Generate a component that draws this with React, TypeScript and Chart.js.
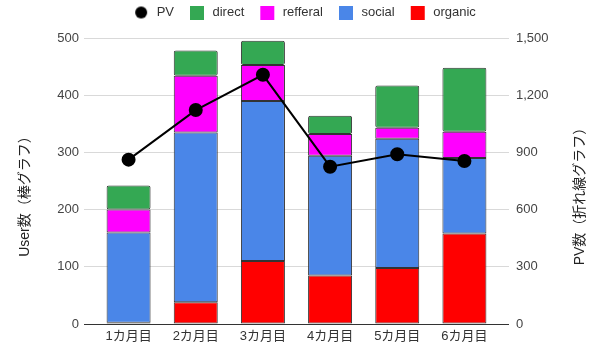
import React, { useEffect, useRef } from "react";
import { Chart, registerables } from "chart.js";

Chart.register(...registerables);

const categories = ["1カ月目", "2カ月目", "3カ月目", "4カ月目", "5カ月目", "6カ月目"];
const organic = [2, 38, 110, 85, 98, 158];
const social = [158, 297, 280, 209, 226, 132];
const refferal = [40, 99, 63, 38, 19, 46];
const direct = [42, 44, 42, 32, 74, 112];
const pv = [862, 1122, 1307, 825, 890, 855];
const leftTitle = "User数（棒グラフ）";
const rightTitle = "PV数（折れ線グラフ）";

const FONT = '"Liberation Sans", Arial, "Noto Sans CJK JP", sans-serif';
const ICON_W = 26;

function makeIcon(kind: "circle" | "rect", color: string): HTMLCanvasElement {
  const c = document.createElement("canvas");
  c.width = ICON_W;
  c.height = 14;
  const g = c.getContext("2d")!;
  g.fillStyle = color;
  if (kind === "circle") {
    g.beginPath();
    g.arc(17, 7, 6, 0, Math.PI * 2);
    g.fill();
  } else {
    g.fillRect(10, 0, 14, 14);
  }
  return c;
}

const titlePlugin = {
  id: "sideTitles",
  beforeUpdate(chart: any) {
    const lg = chart.legend;
    if (lg && !lg.__patched) {
      const orig = lg.fit.bind(lg);
      lg.fit = function () {
        orig();
        this.height = 38;
      };
      lg.__patched = true;
    }
  },
  afterDraw(chart: any) {
    const ctx = chart.ctx;
    const cy = 193;
    const draw = (text: string, x: number) => {
      ctx.save();
      ctx.font = "14px " + FONT;
      ctx.fillStyle = "#222";
      ctx.textAlign = "center";
      ctx.textBaseline = "middle";
      ctx.translate(x, cy);
      ctx.rotate(-Math.PI / 2);
      ctx.fillText(text, 0, 0);
      ctx.restore();
    };
    draw(leftTitle, 25);
    draw(rightTitle, 580);
  },
};

export default function App() {
  const ref = useRef<HTMLCanvasElement | null>(null);
  useEffect(() => {
    if (!ref.current) return;
    const colors = ["#000000", "#ff0000", "#4a86e8", "#ff00ff", "#34a853"];
    const icons = colors.map((c, i) => makeIcon(i === 0 ? "circle" : "rect", c));
    const rank = (i: number) => (i === 0 ? 0 : 10 - i);
    const gridColor = (ctx: any) => (ctx.tick && ctx.tick.value === 0 ? "#333333" : "#d9d9d9");
    const barCommon = {
      type: "bar" as const,
      yAxisID: "y",
      borderColor: "#333333",
      borderWidth: 1,
      borderSkipped: false,
      borderRadius: 2,
      barPercentage: 0.655,
      categoryPercentage: 1,
    };
    const chart = new Chart(ref.current, {
      type: "bar",
      data: {
        labels: categories,
        datasets: [
          {
            type: "line",
            label: "PV",
            data: pv,
            yAxisID: "y2",
            borderColor: "#000000",
            backgroundColor: "#000000",
            borderWidth: 2,
            pointRadius: 6,
            pointBackgroundColor: "#000000",
            pointBorderColor: "#000000",
            tension: 0,
          } as any,
          { ...barCommon, label: "organic", data: organic, backgroundColor: colors[1] },
          { ...barCommon, label: "social", data: social, backgroundColor: colors[2] },
          { ...barCommon, label: "refferal", data: refferal, backgroundColor: colors[3] },
          { ...barCommon, label: "direct", data: direct, backgroundColor: colors[4] },
        ],
      },
      options: {
        responsive: false,
        animation: false,
        layout: { padding: { top: 0 } },
        plugins: {
          tooltip: { enabled: false },
          legend: {
            position: "top",
            labels: {
              usePointStyle: true,
              pointStyleWidth: ICON_W,
              boxWidth: 14,
              boxHeight: 14,
              padding: 6,
              color: "#333",
              font: { family: FONT, size: 13 },
              generateLabels: (ch: any) => {
                const items = Chart.defaults.plugins.legend.labels.generateLabels(ch);
                items.forEach((it: any) => {
                  it.pointStyle = icons[it.datasetIndex];
                  it.lineWidth = 0;
                });
                return items;
              },
              sort: (a: any, b: any) => rank(a.datasetIndex) - rank(b.datasetIndex),
            },
          },
        },
        scales: {
          x: {
            stacked: true,
            grid: { display: false, drawTicks: false },
            border: { display: false },
            ticks: { color: "#333", font: { family: FONT, size: 13 }, padding: 5, maxRotation: 0 },
            afterFit: (s: any) => {
              s.height = 29;
            },
          },
          y: {
            stacked: true,
            position: "left",
            min: 0,
            max: 500,
            ticks: { stepSize: 100, color: "#444", font: { family: FONT, size: 13 }, padding: 5 },
            grid: { color: gridColor, tickLength: 11, lineWidth: 1 },
            border: { display: false },
            afterFit: (s: any) => {
              s.width = 95;
            },
          },
          y2: {
            position: "right",
            min: 0,
            max: 1500,
            ticks: { stepSize: 300, color: "#444", font: { family: FONT, size: 13 }, padding: 7 },
            grid: { color: gridColor, tickLength: 11, drawOnChartArea: false },
            border: { display: false },
            afterFit: (s: any) => {
              s.width = 102;
            },
          },
        },
      } as any,
      plugins: [titlePlugin],
    });
    return () => chart.destroy();
  }, []);
  return (
    <div style={{ position: "fixed", left: 0, top: 0, width: 600, height: 353, background: "#fff" }}>
      <canvas ref={ref} width={600} height={353} style={{ display: "block" }} />
    </div>
  );
}
